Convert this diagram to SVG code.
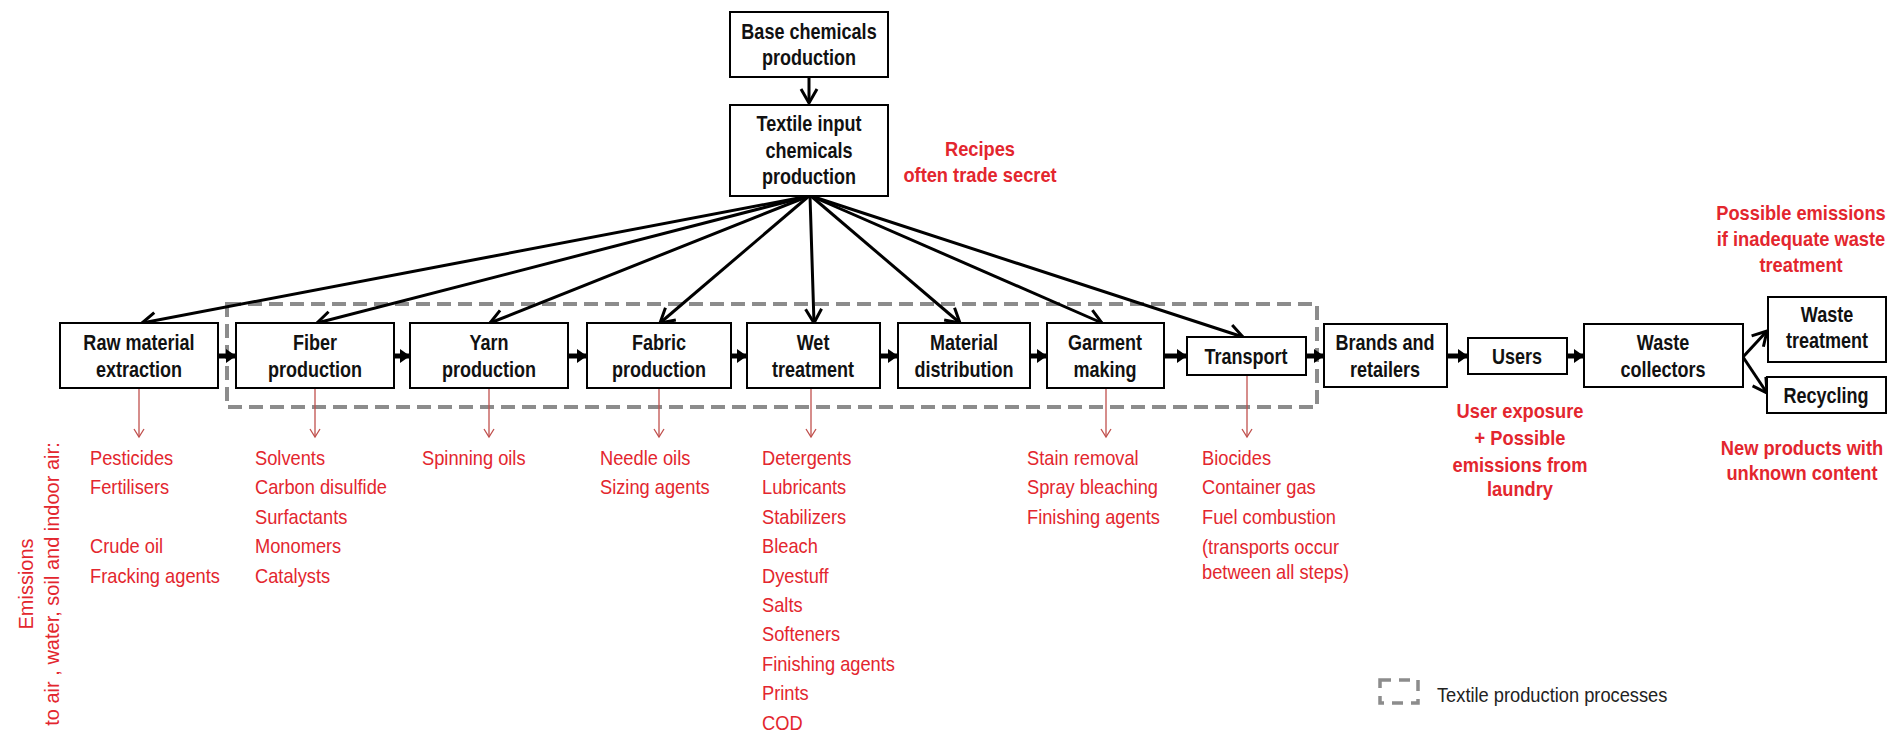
<svg xmlns="http://www.w3.org/2000/svg" width="1895" height="732" viewBox="0 0 1895 732">
<style>
.box{fill:#fff;stroke:#000;stroke-width:2}
.bt{font-family:"Liberation Sans",Arial,sans-serif;font-weight:bold;font-size:22px;fill:#111;text-anchor:middle;transform-box:fill-box;transform-origin:center;transform:scaleX(0.82)}
.rt{font-family:"Liberation Sans",Arial,sans-serif;font-size:21px;fill:#e3262e;transform-box:fill-box;transform-origin:left center;transform:scaleX(0.87)}
.rb{font-family:"Liberation Sans",Arial,sans-serif;font-weight:bold;font-size:21px;fill:#e3262e;text-anchor:middle;transform-box:fill-box;transform-origin:center;transform:scaleX(0.87)}
.lg{font-family:"Liberation Sans",Arial,sans-serif;font-size:21px;fill:#222;transform-box:fill-box;transform-origin:left center;transform:scaleX(0.87)}
.em{font-family:"Liberation Sans",Arial,sans-serif;font-size:20px;fill:#e3262e;text-anchor:middle}
.ln{stroke:#000;stroke-width:3;fill:none;marker-end:url(#open)}
.hz{stroke:#000;stroke-width:5;fill:none;marker-end:url(#solid)}
.rd{stroke:#c0504d;stroke-width:1.3;fill:none;marker-end:url(#red)}
.dash{fill:none;stroke:#8c8c8c;stroke-width:4;stroke-dasharray:14 7}
</style>
<defs>
<marker id="open" markerUnits="userSpaceOnUse" markerWidth="30" markerHeight="30" refX="0" refY="0" orient="auto" overflow="visible">
<path d="M-14,-8 L0,0 L-14,8" fill="none" stroke="#000" stroke-width="3"/>
</marker>
<marker id="solid" markerUnits="userSpaceOnUse" markerWidth="30" markerHeight="30" refX="0" refY="0" orient="auto" overflow="visible">
<path d="M-10,-7 L0,0 L-10,7 z" fill="#000"/>
</marker>
<marker id="red" markerUnits="userSpaceOnUse" markerWidth="20" markerHeight="20" refX="0" refY="0" orient="auto" overflow="visible">
<path d="M-8,-5 L0,0 L-8,5" fill="none" stroke="#c0504d" stroke-width="1.3"/>
</marker>
</defs>
<rect width="1895" height="732" fill="#fff"/>

<rect class="dash" x="227" y="304" width="1090" height="103"/>

<g id="connectors">
<path class="ln" d="M809,77 L809,103"/>
<path class="ln" d="M809,196 L142,323"/>
<path class="ln" d="M809,196 L317,323"/>
<path class="ln" d="M809,196 L490,323"/>
<path class="ln" d="M809,196 L660,323"/>
<path class="ln" d="M810,196 L814,323"/>
<path class="ln" d="M811,196 L960,323"/>
<path class="ln" d="M811,196 L1102,323"/>
<path class="ln" d="M811,196 L1243,337"/>
<path class="hz" d="M218,356 L236,356"/>
<path class="hz" d="M394,356 L410,356"/>
<path class="hz" d="M568,356 L587,356"/>
<path class="hz" d="M731,356 L747,356"/>
<path class="hz" d="M880,356 L898,356"/>
<path class="hz" d="M1030,356 L1047,356"/>
<path class="hz" d="M1164,356 L1187,356"/>
<path class="hz" d="M1306,356 L1324,356"/>
<path class="hz" d="M1447,356 L1468,356"/>
<path class="hz" d="M1567,356 L1584,356"/>
<path class="ln" d="M1743,357 L1767,331"/>
<path class="ln" d="M1743,357 L1767,393"/>
<path class="rd" d="M139,388 L139,437"/>
<path class="rd" d="M315,388 L315,437"/>
<path class="rd" d="M489,388 L489,437"/>
<path class="rd" d="M659,388 L659,437"/>
<path class="rd" d="M811,388 L811,437"/>
<path class="rd" d="M1106,388 L1106,437"/>
<path class="rd" d="M1247,375 L1247,437"/>
</g>

<g id="base"><rect class="box" x="730" y="12" width="158" height="65"/>
<text class="bt" x="809" y="39">Base chemicals</text><text class="bt" x="809" y="65">production</text></g>
<g id="textile"><rect class="box" x="730" y="105" width="158" height="91"/>
<text class="bt" x="809" y="131">Textile input</text><text class="bt" x="809" y="158">chemicals</text><text class="bt" x="809" y="184">production</text></g>

<g id="raw"><rect class="box" x="60" y="323" width="158" height="65"/>
<text class="bt" x="139" y="350">Raw material</text><text class="bt" x="139" y="377">extraction</text></g>
<g id="fiber"><rect class="box" x="236" y="323" width="158" height="65"/>
<text class="bt" x="315" y="350">Fiber</text><text class="bt" x="315" y="377">production</text></g>
<g id="yarn"><rect class="box" x="410" y="323" width="158" height="65"/>
<text class="bt" x="489" y="350">Yarn</text><text class="bt" x="489" y="377">production</text></g>
<g id="fabric"><rect class="box" x="587" y="323" width="144" height="65"/>
<text class="bt" x="659" y="350">Fabric</text><text class="bt" x="659" y="377">production</text></g>
<g id="wet"><rect class="box" x="747" y="323" width="133" height="65"/>
<text class="bt" x="813" y="350">Wet</text><text class="bt" x="813" y="377">treatment</text></g>
<g id="material"><rect class="box" x="898" y="323" width="132" height="65"/>
<text class="bt" x="964" y="350">Material</text><text class="bt" x="964" y="377">distribution</text></g>
<g id="garment"><rect class="box" x="1047" y="323" width="117" height="65"/>
<text class="bt" x="1105" y="350">Garment</text><text class="bt" x="1105" y="377">making</text></g>
<g id="transport"><rect class="box" x="1187" y="337" width="119" height="38"/>
<text class="bt" x="1246" y="364">Transport</text></g>
<g id="brands"><rect class="box" x="1324" y="324" width="123" height="63"/>
<text class="bt" x="1385" y="350">Brands and</text><text class="bt" x="1385" y="377">retailers</text></g>
<g id="users"><rect class="box" x="1468" y="338" width="99" height="36"/>
<text class="bt" x="1517" y="364">Users</text></g>
<g id="collectors"><rect class="box" x="1584" y="324" width="159" height="63"/>
<text class="bt" x="1663" y="350">Waste</text><text class="bt" x="1663" y="377">collectors</text></g>
<g id="wastetreatment"><rect class="box" x="1768" y="297" width="118" height="65"/>
<text class="bt" x="1827" y="322">Waste</text><text class="bt" x="1827" y="348">treatment</text></g>
<g id="recycling"><rect class="box" x="1767" y="377" width="119" height="36"/>
<text class="bt" x="1826" y="403">Recycling</text></g>

<g id="notes">
<text class="rb" x="980" y="156">Recipes</text>
<text class="rb" x="980" y="182">often trade secret</text>
<text class="rb" x="1801" y="220">Possible emissions</text>
<text class="rb" x="1801" y="246">if inadequate waste</text>
<text class="rb" x="1801" y="272">treatment</text>
<text class="rb" x="1520" y="418">User exposure</text>
<text class="rb" x="1520" y="445">+ Possible</text>
<text class="rb" x="1520" y="472">emissions from</text>
<text class="rb" x="1520" y="496">laundry</text>
<text class="rb" x="1802" y="455">New products with</text>
<text class="rb" x="1802" y="480">unknown content</text>
</g>

<g id="lists">
<text class="rt" x="90" y="465">Pesticides</text>
<text class="rt" x="90" y="494">Fertilisers</text>
<text class="rt" x="90" y="553">Crude oil</text>
<text class="rt" x="90" y="583">Fracking agents</text>

<text class="rt" x="255" y="465">Solvents</text>
<text class="rt" x="255" y="494">Carbon disulfide</text>
<text class="rt" x="255" y="524">Surfactants</text>
<text class="rt" x="255" y="553">Monomers</text>
<text class="rt" x="255" y="583">Catalysts</text>

<text class="rt" x="422" y="465">Spinning oils</text>

<text class="rt" x="600" y="465">Needle oils</text>
<text class="rt" x="600" y="494">Sizing agents</text>

<text class="rt" x="762" y="465">Detergents</text>
<text class="rt" x="762" y="494">Lubricants</text>
<text class="rt" x="762" y="524">Stabilizers</text>
<text class="rt" x="762" y="553">Bleach</text>
<text class="rt" x="762" y="583">Dyestuff</text>
<text class="rt" x="762" y="612">Salts</text>
<text class="rt" x="762" y="641">Softeners</text>
<text class="rt" x="762" y="671">Finishing agents</text>
<text class="rt" x="762" y="700">Prints</text>
<text class="rt" x="762" y="730">COD</text>

<text class="rt" x="1027" y="465">Stain removal</text>
<text class="rt" x="1027" y="494">Spray bleaching</text>
<text class="rt" x="1027" y="524">Finishing agents</text>

<text class="rt" x="1202" y="465">Biocides</text>
<text class="rt" x="1202" y="494">Container gas</text>
<text class="rt" x="1202" y="524">Fuel combustion</text>
<text class="rt" x="1202" y="554">(transports occur</text>
<text class="rt" x="1202" y="579">between all steps)</text>
</g>

<g id="emissions">
<text class="em" transform="translate(33,584) rotate(-90)">Emissions</text>
<text class="em" transform="translate(59,584) rotate(-90)">to air , water, soil and indoor air:</text>
</g>

<g id="legend">
<rect x="1380" y="680" width="38" height="23" fill="none" stroke="#8c8c8c" stroke-width="3.5" stroke-dasharray="11 8"/>
<text class="lg" x="1437" y="702">Textile production processes</text>
</g>
</svg>
